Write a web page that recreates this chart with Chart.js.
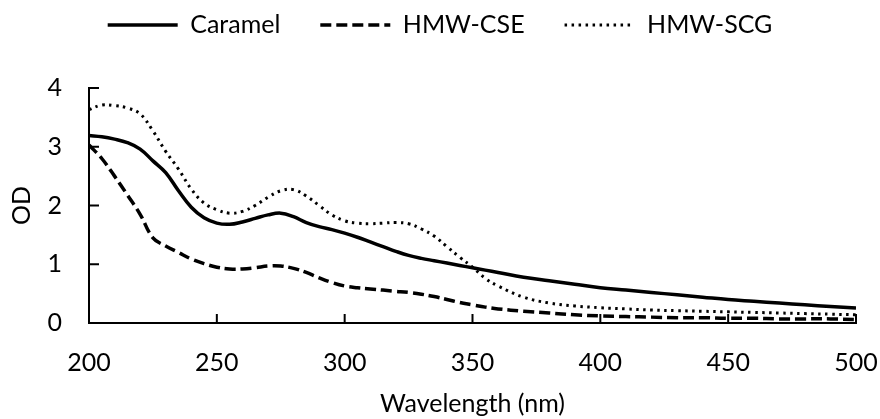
<!DOCTYPE html>
<html>
<head>
<meta charset="utf-8">
<script src="https://cdn.jsdelivr.net/npm/chart.js@4.4.1/dist/chart.umd.min.js"></script>
<style>
  html, body { margin: 0; padding: 0; background: #fff; overflow: hidden; }
  #wrap { width: 880px; height: 419px; }
  canvas { display: block; }
</style>
</head>
<body>
<div id="wrap"><canvas id="chart" width="880" height="419"></canvas></div>
<script>
const wavelengths = [200, 205, 210, 215, 220, 225, 230, 235, 240, 245, 250, 255, 260, 265, 270, 275, 280, 285, 290, 295,
    300, 305, 310, 315, 320, 325, 330, 335, 340, 345, 350, 355, 360, 370, 380, 390, 400, 410, 420, 430,
    440, 450, 460, 470, 480, 490, 500];

const caramel = [3.19, 3.17, 3.13, 3.07, 2.96, 2.76, 2.56, 2.25, 1.97, 1.79, 1.70, 1.68, 1.72, 1.78, 1.84, 1.87, 1.81, 1.71, 1.64, 1.59,
    1.53, 1.46, 1.38, 1.30, 1.22, 1.15, 1.10, 1.06, 1.02, 0.98, 0.94, 0.90, 0.86, 0.78, 0.72, 0.66, 0.60, 0.56, 0.52, 0.48,
    0.44, 0.40, 0.37, 0.34, 0.31, 0.28, 0.255];

const hmwCse = [3.03, 2.80, 2.50, 2.18, 1.85, 1.45, 1.31, 1.20, 1.09, 1.01, 0.95, 0.92, 0.92, 0.94, 0.97, 0.97, 0.93, 0.86, 0.77, 0.69,
    0.63, 0.60, 0.58, 0.56, 0.54, 0.52, 0.49, 0.45, 0.40, 0.35, 0.31, 0.27, 0.24, 0.20, 0.17, 0.14, 0.12, 0.11, 0.10, 0.09,
    0.09, 0.08, 0.08, 0.07, 0.07, 0.07, 0.06];

const hmwScg = [3.63, 3.71, 3.70, 3.66, 3.56, 3.27, 2.92, 2.62, 2.28, 2.04, 1.93, 1.87, 1.90, 2.00, 2.14, 2.25, 2.27, 2.16, 2.00, 1.84,
    1.74, 1.70, 1.69, 1.70, 1.71, 1.69, 1.60, 1.48, 1.30, 1.12, 0.95, 0.76, 0.63, 0.44, 0.34, 0.29, 0.26, 0.24, 0.22, 0.21,
    0.20, 0.19, 0.18, 0.17, 0.16, 0.15, 0.14];

const seriesNames = ['Caramel', 'HMW-CSE', 'HMW-SCG'];

const FONT = 'Lato, "Open Sans", sans-serif';
const FONT_SIZE = 25;

const toPoints = (vals) => vals.map((v, i) => ({ x: wavelengths[i], y: v }));

// small tick marks pointing into the plot, like the original
const innerTicks = {
    id: 'innerTicks',
    afterDraw(chart) {
        const { ctx, chartArea, scales } = chart;
        ctx.save();
        ctx.strokeStyle = '#000';
        ctx.lineWidth = 2;
        ctx.beginPath();
        scales.x.ticks.forEach((t) => {
            const px = scales.x.getPixelForValue(t.value);
            ctx.moveTo(px, chartArea.bottom);
            ctx.lineTo(px, chartArea.bottom - 9);
        });
        scales.y.ticks.forEach((t) => {
            const py = scales.y.getPixelForValue(t.value);
            ctx.moveTo(chartArea.left, py);
            ctx.lineTo(chartArea.left + 10, py);
        });
        ctx.stroke();
        ctx.restore();
    }
};

// extra room under the legend so the plot starts lower
const legendSpace = {
    id: 'legendSpace',
    afterInit(chart) {
        const legend = chart.legend;
        if (!legend) return;
        const fit = legend.fit;
        legend.fit = function () {
            fit.call(this);
            this.height = 115.5;
        };
    }
};

new Chart(document.getElementById('chart'), {
    type: 'line',
    data: {
        datasets: [
            {
                label: seriesNames[0],
                data: toPoints(caramel),
                borderColor: '#000',
                borderWidth: 3.5,
                pointRadius: 0,
                pointStyle: 'line',
                tension: 0.4,
            },
            {
                label: seriesNames[1],
                data: toPoints(hmwCse),
                borderColor: '#000',
                borderWidth: 3.5,
                borderDash: [11, 5],
                pointRadius: 0,
                pointStyle: 'line',
                tension: 0.4,
            },
            {
                label: seriesNames[2],
                data: toPoints(hmwScg),
                borderColor: '#000',
                borderWidth: 3,
                borderDash: [2.5, 4.5],
                pointRadius: 0,
                pointStyle: 'line',
                tension: 0.4,
            },
        ],
    },
    options: {
        responsive: false,
        animation: false,
        layout: { padding: { left: 0, right: 0, top: -27.5, bottom: 0 } },
        plugins: {
            legend: {
                display: true,
                position: 'top',
                labels: {
                    usePointStyle: true,
                    pointStyleWidth: 70,
                    color: '#000',
                    padding: 40,
                    font: { family: FONT, size: FONT_SIZE },
                    generateLabels: (chart) =>
                        Chart.defaults.plugins.legend.labels.generateLabels(chart).map((item) => {
                            const ds = chart.data.datasets[item.datasetIndex];
                            item.lineDash = ds.borderDash || [];
                            item.lineWidth = ds.borderWidth;
                            item.strokeStyle = '#000';
                            return item;
                        }),
                },
            },
            tooltip: { enabled: false },
        },
        scales: {
            x: {
                type: 'linear',
                min: 200,
                max: 500,
                grid: { display: false, drawTicks: false },
                border: { display: true, color: '#000', width: 2 },
                ticks: { stepSize: 50, padding: 25, color: '#000', font: { family: FONT, size: FONT_SIZE } },
                title: {
                    display: true,
                    text: 'Wavelength (nm)',
                    color: '#000',
                    font: { family: FONT, size: FONT_SIZE },
                    padding: { top: 0, bottom: 0 },
                },
                afterFit: (scale) => {
                    scale.height = 96;
                    // fixed room on the right so the plot ends where the original does
                    scale.paddingLeft = 0;
                    scale.paddingRight = 24;
                },
            },
            y: {
                min: 0,
                max: 4,
                grid: { display: false, drawTicks: false },
                border: { display: true, color: '#000', width: 2 },
                ticks: { stepSize: 1, padding: 27, color: '#000', font: { family: FONT, size: FONT_SIZE } },
                title: {
                    display: true,
                    text: 'OD',
                    color: '#000',
                    font: { family: FONT, size: FONT_SIZE },
                    padding: { top: 7, bottom: 0 },
                },
                afterFit: (scale) => { scale.width = 89; },
            },
        },
    },
    plugins: [innerTicks, legendSpace],
});
</script>
</body>
</html>
